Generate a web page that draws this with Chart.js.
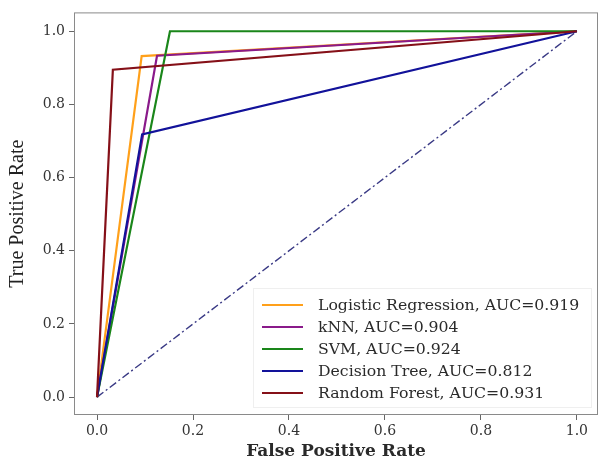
<!DOCTYPE html>
<html>
<head>
<meta charset="utf-8">
<script src="https://cdn.jsdelivr.net/npm/chart.js@4.4.1/dist/chart.umd.min.js"></script>
<style>
  html, body { margin: 0; padding: 0; background: #fff; }
  #wrap { width: 599px; height: 462px; }
</style>
</head>
<body>
<div id="wrap"><canvas id="roc"></canvas></div>
<script>
// Datos
const modelos = ['Logistic Regression', 'kNN', 'SVM', 'Decision Tree', 'Random Forest'];
const aucs = ['0.919', '0.904', '0.924', '0.812', '0.931'];
const fprValores = [
    [0, 0.093, 1],
    [0, 0.125, 1],
    [0, 0.152, 1],
    [0, 0.094, 1],
    [0, 0.033, 1]
];
const tprValores = [
    [0, 0.932, 1],
    [0, 0.933, 1],
    [0, 1.0, 1],
    [0, 0.718, 1],
    [0, 0.895, 1]
];
const azarX = [0, 1];
const azarY = [0, 1];
const ticksX = [0, 0.2, 0.4, 0.6, 0.8, 1.0];
const ticksY = [0, 0.2, 0.4, 0.6, 0.8, 1.0];

const colores = ['#ffa01a', '#8a1a8a', '#1a861a', '#12129a', '#851018'];
const fuente = "'DejaVu Serif', serif";

const datasets = modelos.map((m, i) => ({
    label: m + ', AUC=' + aucs[i],
    data: fprValores[i].map((x, j) => ({ x: x, y: tprValores[i][j] })),
    borderColor: colores[i],
    borderWidth: 2.2,
    showLine: true,
    pointRadius: 0,
    fill: false,
    tension: 0,
    order: modelos.length - i
}));

datasets.push({
    label: 'chance',
    data: azarX.map((x, j) => ({ x: x, y: azarY[j] })),
    borderColor: '#3a3a85',
    borderWidth: 1.4,
    borderDash: [8, 3, 2, 3],
    showLine: true,
    pointRadius: 0,
    order: 10
});

// Marco y leyenda dibujados dentro del área del gráfico
const marcoYLeyenda = {
    id: 'marcoYLeyenda',
    afterDraw(chart) {
        const ctx = chart.ctx;
        const a = chart.chartArea;
        ctx.save();
        ctx.strokeStyle = '#8a8a8a';
        ctx.lineWidth = 1;
        ctx.strokeRect(a.left + 0.5, a.top + 0.5, a.right - a.left - 1, a.bottom - a.top - 1);

        // leyenda
        const bx = 253, by = 288, bw = 338, bh = 119;
        ctx.fillStyle = 'rgba(255,255,255,0.85)';
        ctx.strokeStyle = '#efefef';
        ctx.fillRect(bx, by, bw, bh);
        ctx.strokeRect(bx + 0.5, by + 0.5, bw, bh);
        ctx.font = '15.7px ' + fuente;
        ctx.textBaseline = 'middle';
        chart.data.datasets.slice(0, modelos.length).forEach((ds, i) => {
            const y = 305 + i * 22;
            ctx.strokeStyle = ds.borderColor;
            ctx.lineWidth = 2.2;
            ctx.beginPath();
            ctx.moveTo(262, y);
            ctx.lineTo(303, y);
            ctx.stroke();
            ctx.fillStyle = '#2a2a2a';
            ctx.fillText(ds.label, 318, y + 1);
        });
        ctx.restore();
    }
};

new Chart(document.getElementById('roc'), {
    type: 'scatter',
    data: { datasets: datasets },
    options: {
        responsive: true,
        maintainAspectRatio: false,
        animation: false,
        layout: { padding: { top: 9, right: 1, left: 0, bottom: 0 } },
        plugins: {
            legend: { display: false },
            tooltip: { enabled: false }
        },
        scales: {
            x: {
                type: 'linear',
                min: -0.048,
                max: 1.044,
                afterBuildTicks: s => { s.ticks = ticksX.map(v => ({ value: v })); },
                afterFit: s => { s.height = 47; },
                grid: { drawOnChartArea: false, tickLength: 5, tickColor: '#666' },
                border: { display: false },
                ticks: {
                    color: '#333',
                    padding: 3,
                    font: { family: fuente, size: 14 },
                    callback: v => v.toFixed(1)
                },
                title: {
                    display: true,
                    text: 'False Positive Rate',
                    color: '#2a2a2a',
                    padding: { top: 3, bottom: 0 },
                    font: { family: fuente, size: 17, weight: 'bold' }
                }
            },
            y: {
                type: 'linear',
                min: -0.0488,
                max: 1.0515,
                afterBuildTicks: s => { s.ticks = ticksY.map(v => ({ value: v })); },
                afterFit: s => { s.width = 74; },
                grid: { drawOnChartArea: false, tickLength: 5, tickColor: '#666' },
                border: { display: false },
                ticks: {
                    color: '#333',
                    padding: 4,
                    font: { family: fuente, size: 14 },
                    callback: v => v.toFixed(1)
                },
                title: {
                    display: true,
                    text: 'True Positive Rate',
                    color: '#222',
                    padding: { top: 6, bottom: 4 },
                    font: { family: "'Liberation Serif', serif", size: 20 }
                }
            }
        }
    },
    plugins: [marcoYLeyenda]
});
</script>
</body>
</html>
